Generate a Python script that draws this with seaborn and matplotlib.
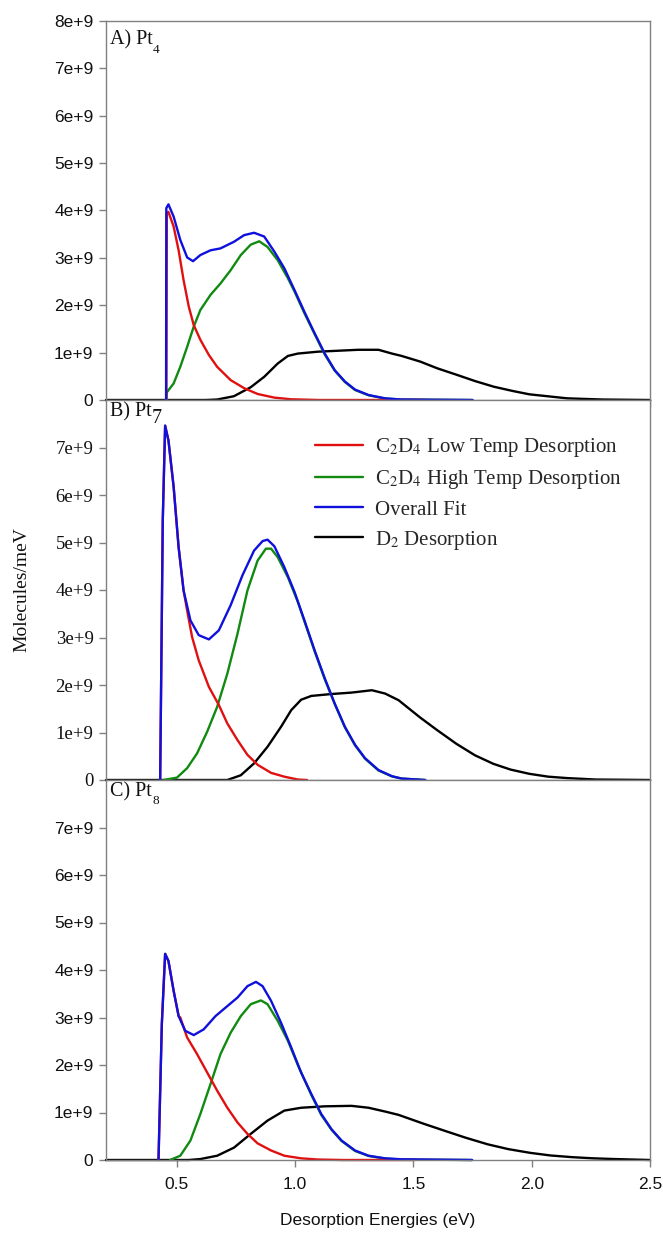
import numpy as np
import pandas as pd
import seaborn as sns
import matplotlib
matplotlib.use("Agg")
import matplotlib.pyplot as plt

# ---------------- data (energies in eV, values in 1e9 molecules/meV) ----------------
# Panel A: Pt4
a_low_x = [0.455, 0.457, 0.464, 0.486, 0.507, 0.528, 0.55, 0.571, 0.599, 0.635, 0.67, 0.727, 0.784, 0.841, 0.912, 0.983, 1.1, 1.55]
a_low_y = [0.0, 3.95, 3.97, 3.66, 3.16, 2.53, 1.97, 1.58, 1.27, 0.95, 0.70, 0.42, 0.25, 0.127, 0.05, 0.015, 0.0, 0.0]
a_high_x = [0.455, 0.457, 0.486, 0.514, 0.543, 0.571, 0.599, 0.642, 0.684, 0.727, 0.77, 0.812, 0.848, 0.883, 0.926, 0.969, 0.997, 1.039, 1.082, 1.125, 1.167, 1.21, 1.253, 1.31, 1.38, 1.45, 1.75]
a_high_y = [0.0, 0.16, 0.35, 0.70, 1.12, 1.55, 1.90, 2.22, 2.46, 2.74, 3.06, 3.28, 3.35, 3.23, 2.95, 2.57, 2.29, 1.83, 1.39, 0.96, 0.62, 0.38, 0.21, 0.1, 0.03, 0.01, 0.0]
a_fit_x = [0.454, 0.455, 0.464, 0.486, 0.514, 0.543, 0.568, 0.599, 0.642, 0.684, 0.741, 0.784, 0.826, 0.869, 0.912, 0.954, 0.997, 1.039, 1.082, 1.125, 1.167, 1.21, 1.253, 1.31, 1.38, 1.45, 1.75]
a_fit_y = [0.0, 4.05, 4.13, 3.87, 3.38, 3.01, 2.93, 3.06, 3.16, 3.2, 3.34, 3.48, 3.53, 3.45, 3.13, 2.78, 2.32, 1.86, 1.41, 0.98, 0.63, 0.39, 0.22, 0.105, 0.035, 0.01, 0.0]
a_d2_x = [0.2, 0.62, 0.67, 0.741, 0.812, 0.869, 0.926, 0.969, 1.011, 1.096, 1.182, 1.267, 1.352, 1.409, 1.45, 1.529, 1.60, 1.684, 1.76, 1.84, 1.92, 1.99, 2.15, 2.30, 2.5]
a_d2_y = [0.0, 0.0, 0.01, 0.08, 0.27, 0.49, 0.77, 0.93, 0.98, 1.02, 1.04, 1.06, 1.06, 0.98, 0.93, 0.81, 0.67, 0.53, 0.40, 0.28, 0.19, 0.12, 0.035, 0.01, 0.0]

# Panel B: Pt7
b_low_x = [0.429, 0.44, 0.45, 0.464, 0.486, 0.507, 0.528, 0.543, 0.564, 0.592, 0.635, 0.677, 0.713, 0.756, 0.798, 0.841, 0.898, 0.954, 1.011, 1.05]
b_low_y = [0.0, 5.47, 7.46, 7.15, 6.17, 4.9, 3.99, 3.57, 3.01, 2.52, 1.96, 1.58, 1.19, 0.84, 0.53, 0.32, 0.15, 0.07, 0.01, 0.0]
b_high_x = [0.443, 0.5, 0.543, 0.585, 0.628, 0.67, 0.713, 0.756, 0.798, 0.841, 0.876, 0.898, 0.926, 0.969, 1.011, 1.039, 1.082, 1.125, 1.167, 1.21, 1.253, 1.295, 1.352, 1.409, 1.45, 1.55]
b_high_y = [0.0, 0.05, 0.25, 0.56, 1.02, 1.54, 2.24, 3.08, 3.99, 4.62, 4.87, 4.87, 4.69, 4.27, 3.75, 3.34, 2.71, 2.12, 1.6, 1.11, 0.73, 0.45, 0.2, 0.075, 0.03, 0.0]
b_fit_x = [0.429, 0.44, 0.45, 0.464, 0.486, 0.507, 0.528, 0.557, 0.592, 0.635, 0.677, 0.727, 0.777, 0.826, 0.862, 0.883, 0.912, 0.954, 0.997, 1.039, 1.082, 1.125, 1.167, 1.21, 1.253, 1.295, 1.352, 1.409, 1.45, 1.55]
b_fit_y = [0.0, 5.47, 7.46, 7.15, 6.17, 4.9, 3.99, 3.36, 3.05, 2.96, 3.15, 3.68, 4.31, 4.83, 5.03, 5.06, 4.92, 4.48, 3.96, 3.36, 2.73, 2.14, 1.61, 1.12, 0.74, 0.46, 0.21, 0.08, 0.03, 0.0]
b_d2_x = [0.2, 0.713, 0.77, 0.826, 0.883, 0.94, 0.983, 1.025, 1.068, 1.153, 1.238, 1.324, 1.38, 1.437, 1.527, 1.60, 1.682, 1.76, 1.838, 1.91, 1.99, 2.07, 2.15, 2.27, 2.5]
b_d2_y = [0.0, 0.0, 0.1, 0.35, 0.7, 1.12, 1.47, 1.69, 1.77, 1.81, 1.84, 1.89, 1.82, 1.68, 1.32, 1.05, 0.76, 0.52, 0.34, 0.22, 0.13, 0.07, 0.04, 0.01, 0.0]

# Panel C: Pt8
c_low_x = [0.422, 0.436, 0.45, 0.464, 0.486, 0.507, 0.514, 0.543, 0.585, 0.628, 0.67, 0.713, 0.756, 0.798, 0.841, 0.898, 0.954, 1.025, 1.096, 1.2, 1.5]
c_low_y = [0.0, 2.86, 4.34, 4.19, 3.56, 3.03, 3.0, 2.58, 2.23, 1.84, 1.46, 1.1, 0.79, 0.55, 0.35, 0.2, 0.09, 0.035, 0.01, 0.0, 0.0]
c_high_x = [0.471, 0.514, 0.557, 0.599, 0.642, 0.684, 0.727, 0.77, 0.812, 0.855, 0.883, 0.926, 0.969, 1.011, 1.068, 1.11, 1.153, 1.196, 1.253, 1.31, 1.38, 1.45, 1.748]
c_high_y = [0.0, 0.09, 0.41, 0.97, 1.6, 2.23, 2.68, 3.03, 3.28, 3.36, 3.28, 2.93, 2.51, 2.0, 1.37, 0.95, 0.64, 0.4, 0.19, 0.085, 0.03, 0.01, 0.0]
c_fit_x = [0.422, 0.436, 0.45, 0.464, 0.486, 0.507, 0.535, 0.571, 0.613, 0.663, 0.713, 0.756, 0.798, 0.834, 0.862, 0.898, 0.94, 0.983, 1.025, 1.068, 1.11, 1.153, 1.196, 1.253, 1.31, 1.38, 1.45, 1.748]
c_fit_y = [0.0, 2.86, 4.34, 4.19, 3.56, 3.03, 2.72, 2.63, 2.75, 3.03, 3.24, 3.42, 3.66, 3.75, 3.66, 3.35, 2.89, 2.37, 1.84, 1.39, 0.97, 0.65, 0.41, 0.2, 0.09, 0.035, 0.015, 0.0]
c_d2_x = [0.2, 0.55, 0.599, 0.67, 0.741, 0.812, 0.883, 0.954, 1.025, 1.125, 1.238, 1.31, 1.38, 1.437, 1.545, 1.635, 1.72, 1.814, 1.9, 1.994, 2.08, 2.17, 2.26, 2.35, 2.5]
c_d2_y = [0.0, 0.0, 0.02, 0.09, 0.26, 0.55, 0.83, 1.04, 1.1, 1.13, 1.14, 1.1, 1.02, 0.95, 0.76, 0.61, 0.47, 0.33, 0.23, 0.15, 0.095, 0.06, 0.035, 0.02, 0.0]

series_names = ["C$_2$D$_4$ Low Temp Desorption", "C$_2$D$_4$ High Temp Desorption",
                "Overall Fit", "D$_2$ Desorption"]
series_colors = ["#e01010", "#118a11", "#1010dd", "#000000"]
panel_labels = ["A) Pt", "B) Pt", "C) Pt"]
panel_subs = ["4", "7", "8"]
x_ticks = [0.5, 1.0, 1.5, 2.0, 2.5]
x_tick_labels = ["0.5", "1.0", "1.5", "2.0", "2.5"]
y_ticks_top = [0, 1e9, 2e9, 3e9, 4e9, 5e9, 6e9, 7e9, 8e9]
y_tick_labels_top = ["0", "1e+9", "2e+9", "3e+9", "4e+9", "5e+9", "6e+9", "7e+9", "8e+9"]

panels = [
    [(a_low_x, a_low_y), (a_high_x, a_high_y), (a_fit_x, a_fit_y), (a_d2_x, a_d2_y)],
    [(b_low_x, b_low_y), (b_high_x, b_high_y), (b_fit_x, b_fit_y), (b_d2_x, b_d2_y)],
    [(c_low_x, c_low_y), (c_high_x, c_high_y), (c_fit_x, c_fit_y), (c_d2_x, c_d2_y)],
]

# ---------------- styling ----------------
sns.set_theme(style="white")
plt.rcParams["font.family"] = ["Liberation Sans", "DejaVu Sans"]
plt.rcParams["mathtext.fontset"] = "stix"
SERIF = ["Liberation Serif", "DejaVu Serif"]
SANS = ["Liberation Sans", "DejaVu Sans"]
GREY = "#808080"

W, H = 663, 1233
fig = plt.figure(figsize=(W / 100, H / 100), dpi=100)
left = 106 / W
width = (650 - 106) / W
tops = [21, 400, 780]
bottoms = [400, 780, 1160]

draw_order = [3, 1, 0, 2]  # D2, high, low, fit (fit on top)
axes = []
for i, data in enumerate(panels):
    ax = fig.add_axes([left, 1 - bottoms[i] / H, width, (bottoms[i] - tops[i]) / H])
    frames = []
    for k in draw_order:
        xs, ys = data[k]
        frames.append(pd.DataFrame({"energy": xs,
                                    "value": np.asarray(ys) * 1e9,
                                    "series": series_names[k]}))
    df = pd.concat(frames, ignore_index=True)
    sns.lineplot(data=df, x="energy", y="value", hue="series",
                 hue_order=[series_names[k] for k in draw_order],
                 palette={series_names[k]: series_colors[k] for k in range(4)},
                 estimator=None, sort=False, linewidth=1.7,
                 legend=(i == 1), ax=ax, clip_on=False)
    for ln in ax.get_lines():
        ln.set_solid_joinstyle("round")
    ax.set_xlim(0.2, 2.5)
    ax.set_ylim(0, 8e9)
    ax.set_xlabel("")
    ax.set_ylabel("")
    for s in ["left", "top", "right", "bottom"]:
        ax.spines[s].set_color(GREY)
        ax.spines[s].set_linewidth(1.0)
    if i == 0:
        ax.set_yticks(y_ticks_top)
        ax.set_yticklabels(y_tick_labels_top)
    else:
        ax.set_yticks(y_ticks_top[:-1])
        ax.set_yticklabels(y_tick_labels_top[:-1])
    ax.set_xticks(x_ticks)
    if i == 2:
        ax.set_xticklabels(x_tick_labels)
    else:
        ax.set_xticklabels([])
    ax.tick_params(axis="y", direction="out", length=5, width=1, color=GREY,
                   pad=4, labelsize=(13.5 if i == 1 else 12.5), labelcolor="#111111",
                   left=True)
    ax.tick_params(axis="x", direction="out", length=(5 if i != 1 else 0), width=1,
                   color=GREY, pad=7, labelsize=12.5, labelcolor="#111111", bottom=True)
    for lab in ax.get_yticklabels():
        lab.set_family(SERIF if i == 1 else SANS)
    # panel label
    t = ax.text(0.008, 0.975 if i == 0 else 0.995, panel_labels[i], transform=ax.transAxes,
                ha="left", va="top", fontsize=14.5, family=SERIF, color="#111111")
    sub_size = 14.5 if i == 1 else 9.5
    ax.annotate(panel_subs[i], xy=(1.0, 0.15 if i == 1 else 0.0), xycoords=t,
                ha="left", va="center", fontsize=sub_size, family=SERIF, color="#111111")
    axes.append(ax)

# legend in panel B
axB = axes[1]
handles, labels = axB.get_legend_handles_labels()
order = [labels.index(n) for n in series_names]
axB.legend([handles[j] for j in order], [labels[j] for j in order],
           loc="upper left", bbox_to_anchor=(0.385, 0.905), frameon=False,
           prop={"family": SERIF, "size": 15}, handlelength=2.3, handletextpad=0.55,
           labelspacing=0.43, borderpad=0, borderaxespad=0)

fig.text(22 / W, 1 - 590 / H, "Molecules/meV", rotation=90, ha="center", va="center",
         fontsize=14, family=SERIF, color="#111111")
fig.text((106 + 650) / 2 / W, 1 - 1221 / H, "Desorption Energies (eV)", ha="center",
         va="center", fontsize=12.5, family=SANS, color="#111111")

fig.savefig("out.png", dpi=100)
